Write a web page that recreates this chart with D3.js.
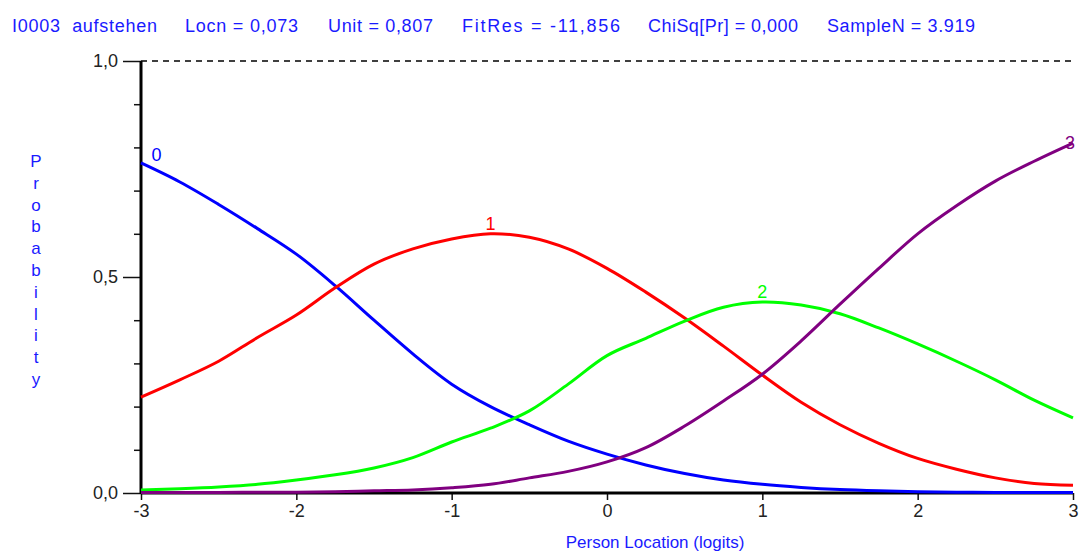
<!DOCTYPE html>
<html>
<head>
<meta charset="utf-8">
<script src="https://cdn.jsdelivr.net/npm/d3@7"></script>
<style>
  body { margin: 0; background: #fff; }
  svg { display: block; font-family: "Liberation Sans", Arial, sans-serif; }
</style>
</head>
<body>
<svg id="chart" width="1083" height="552"></svg>
<script>
// category probability curves, every 0.25 logits
var personLocation = [-3, -2.75, -2.5, -2.25, -2, -1.75, -1.5, -1.25, -1, -0.75, -0.5, -0.25,
    0, 0.25, 0.5, 0.75, 1, 1.25, 1.5, 1.75, 2, 2.25, 2.5, 2.75, 3];
var probCat0 = [0.764, 0.72, 0.668, 0.612, 0.553, 0.48, 0.4, 0.322, 0.252, 0.2, 0.158, 0.12,
    0.09, 0.065, 0.045, 0.03, 0.02, 0.013, 0.008, 0.005, 0.003, 0.002, 0.001, 0.001, 0.001];
var probCat1 = [0.222, 0.262, 0.305, 0.36, 0.412, 0.475, 0.53, 0.565, 0.588, 0.6, 0.592, 0.565,
    0.52, 0.465, 0.405, 0.34, 0.273, 0.21, 0.158, 0.115, 0.08, 0.055, 0.035, 0.022, 0.018];
var probCat2 = [0.007, 0.01, 0.014, 0.02, 0.03, 0.042, 0.058, 0.082, 0.118, 0.15, 0.19, 0.252,
    0.318, 0.358, 0.398, 0.43, 0.442, 0.435, 0.415, 0.382, 0.345, 0.305, 0.262, 0.215, 0.174];
var probCat3 = [0.001, 0.001, 0.001, 0.002, 0.002, 0.003, 0.005, 0.007, 0.012, 0.02, 0.035, 0.05,
    0.072, 0.105, 0.155, 0.213, 0.275, 0.352, 0.437, 0.52, 0.6, 0.665, 0.722, 0.768, 0.81];
var categoryNames = ["0", "1", "2", "3"];
var categoryColors = ["#0000ff", "#ff0000", "#00ff00", "#800080"];
// where each curve label sits (logit value on the curve)
var labelAt = [-2.9, -0.75, 1.0, 2.98];

var xTicks = [-3, -2, -1, 0, 1, 2, 3];
var yTicks = [0, 0.5, 1];
var yMinorTicks = [0.1, 0.2, 0.3, 0.4, 0.6, 0.7, 0.8, 0.9];

var headerTexts = ["I0003  aufstehen", "Locn = 0,073", "Unit = 0,807", "FitRes = -11,856",
    "ChiSq[Pr] = 0,000", "SampleN = 3.919"];
var xTitle = "Person Location (logits)";
var yTitle = "Probability";

function drawChart() {
    var svg = d3.select("#chart");
    var plotLeft = 141, plotRight = 1073, plotTop = 61, plotBottom = 493;

    var x = d3.scaleLinear().domain([-3, 3]).range([plotLeft, plotRight]);
    var y = d3.scaleLinear().domain([0, 1]).range([plotBottom, plotTop]);
    var fmt = function (v) { return d3.format(".1f")(v).replace(".", ","); };

    // header line
    var headerX = [12, 185, 328, 462, 648, 827];
    var headerW = [145, 113, 105, 158, 150, 148];
    svg.selectAll(".hdr")
        .data(headerTexts)
        .enter()
        .append("text")
        .attr("class", "hdr")
        .attr("x", function (d, i) { return headerX[i]; })
        .attr("y", 32)
        .attr("textLength", function (d, i) { return headerW[i]; })
        .attr("lengthAdjust", "spacing")
        .style("white-space", "pre")
        .attr("font-size", 18)
        .attr("fill", "#1a1aff")
        .text(function (d) { return d; });

    // dashed line at probability 1
    svg.append("line")
        .attr("x1", x(-3)).attr("x2", x(3))
        .attr("y1", y(1)).attr("y2", y(1))
        .attr("stroke", "#000")
        .attr("stroke-width", 1.3)
        .attr("stroke-dasharray", "6,5");

    // y axis
    var yAxis = d3.axisLeft(y).tickValues(yTicks).tickSize(18).tickPadding(5).tickFormat(fmt);
    var gy = svg.append("g").attr("transform", "translate(" + plotLeft + ",0)").call(yAxis);
    gy.select(".domain").remove();
    gy.selectAll(".tick line").attr("stroke", "#111").attr("stroke-width", 1.5);
    gy.selectAll(".tick text").attr("font-size", 18).attr("fill", "#222")
        .attr("font-family", "Liberation Sans, Arial, sans-serif");

    var gym = svg.append("g").attr("transform", "translate(" + plotLeft + ",0)")
        .call(d3.axisLeft(y).tickValues(yMinorTicks).tickSize(7).tickFormat(""));
    gym.select(".domain").remove();
    gym.selectAll(".tick line").attr("stroke", "#111").attr("stroke-width", 1.5);

    // x axis
    var xAxis = d3.axisBottom(x).tickValues(xTicks).tickSize(7).tickPadding(4).tickFormat(d3.format("d"));
    var gx = svg.append("g").attr("transform", "translate(0," + plotBottom + ")").call(xAxis);
    gx.select(".domain").remove();
    gx.selectAll(".tick line").attr("stroke", "#111").attr("stroke-width", 1.5);
    gx.selectAll(".tick text").attr("font-size", 18).attr("fill", "#222")
        .attr("font-family", "Liberation Sans, Arial, sans-serif")
        .text(function (d) { return d < 0 ? "-" + Math.abs(d) : d; });

    svg.append("line")
        .attr("x1", plotLeft).attr("x2", plotRight)
        .attr("y1", plotBottom).attr("y2", plotBottom)
        .attr("stroke", "#000").attr("stroke-width", 3);
    svg.append("line")
        .attr("x1", plotLeft).attr("x2", plotLeft)
        .attr("y1", plotTop).attr("y2", plotBottom + 1)
        .attr("stroke", "#000").attr("stroke-width", 3);

    // curves
    var series = [probCat0, probCat1, probCat2, probCat3];
    var line = d3.line()
        .curve(d3.curveCatmullRom)
        .x(function (d) { return x(d[0]); })
        .y(function (d) { return y(d[1]); });

    series.forEach(function (vals, k) {
        var pts = personLocation.map(function (p, i) { return [p, vals[i]]; });
        svg.append("path")
            .datum(pts)
            .attr("fill", "none")
            .attr("stroke", categoryColors[k])
            .attr("stroke-width", 3)
            .attr("stroke-linejoin", "round")
            .attr("d", line);
    });

    // curve labels
    var labelDy = [-10, -4, -4, 4];
    series.forEach(function (vals, k) {
        var lx = labelAt[k];
        var ly = d3.scaleLinear().domain(personLocation).range(vals)(lx);
        svg.append("text")
            .attr("x", x(lx))
            .attr("y", y(ly) + labelDy[k])
            .attr("text-anchor", "middle")
            .attr("font-size", 18)
            .attr("fill", categoryColors[k])
            .text(categoryNames[k]);
    });

    // axis titles
    svg.append("text")
        .attr("x", 655).attr("y", 548)
        .attr("text-anchor", "middle")
        .attr("font-size", 17)
        .attr("fill", "#1a1aff")
        .text(xTitle);

    svg.selectAll(".ylet")
        .data(yTitle.split(""))
        .enter()
        .append("text")
        .attr("class", "ylet")
        .attr("x", 36)
        .attr("y", function (d, i) { return 167 + i * 21.8; })
        .attr("text-anchor", "middle")
        .attr("font-size", 17)
        .attr("fill", "#1a1aff")
        .text(function (d) { return d; });
}

drawChart();
</script>
</body>
</html>
